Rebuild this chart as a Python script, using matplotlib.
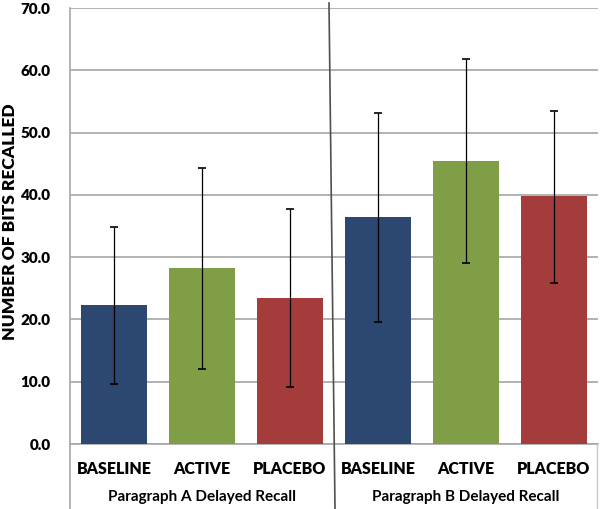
import matplotlib
matplotlib.use("Agg")
import matplotlib.pyplot as plt
from matplotlib.lines import Line2D

categories = ["BASELINE", "ACTIVE", "PLACEBO", "BASELINE", "ACTIVE", "PLACEBO"]
groups = ["Paragraph A Delayed Recall", "Paragraph B Delayed Recall"]
means = [22.3, 28.3, 23.5, 36.5, 45.5, 39.8]
err_low = [9.7, 12.0, 9.1, 19.6, 29.1, 25.9]
err_high = [34.9, 44.3, 37.8, 53.1, 61.8, 53.4]
colors = ["#2C4770", "#7F9E45", "#A33C3B", "#2C4770", "#7F9E45", "#A33C3B"]
yticks = [0, 10, 20, 30, 40, 50, 60, 70]

plt.rcParams['font.family'] = ['Lato', 'DejaVu Sans']

fig = plt.figure(figsize=(6.0, 5.09), dpi=100)
ax = fig.add_axes([70/600, (509-444)/509, 528/600, 436/509])

x = list(range(len(means)))
yerr = [[m - lo for m, lo in zip(means, err_low)], [hi - m for m, hi in zip(means, err_high)]]
ax.bar(x, means, width=0.75, color=colors, zorder=3)
ax.errorbar(x, means, yerr=yerr, fmt='none', ecolor='black', elinewidth=0.9,
            capsize=3, capthick=1.2, zorder=4)

ax.set_xlim(-0.5, 5.5)
ax.set_ylim(0, 70)
ax.set_yticks(yticks)
ax.set_yticklabels([f"{v:.1f}" for v in yticks], fontsize=11, fontweight='heavy')
ax.yaxis.grid(True, color='#A6A6A6', linewidth=1.2, zorder=0)
ax.set_axisbelow(True)
ax.tick_params(axis='y', length=0, pad=14)
ax.set_xticks(x)
ax.set_xticklabels(categories, fontsize=11.5, fontweight='heavy')
ax.tick_params(axis='x', length=0, pad=12)

for s in ['top', 'right']:
    ax.spines[s].set_visible(False)
ax.spines['left'].set_color('#A6A6A6')
ax.spines['bottom'].set_color('#A6A6A6')
ax.spines['left'].set_linewidth(1.2)
ax.spines['bottom'].set_linewidth(1.2)

fig.text(10/600, (509-222)/509, "NUMBER OF BITS RECALLED", rotation=90,
         ha='center', va='center', fontsize=12.5, fontweight='heavy')

# group labels
for gi, g in enumerate(groups):
    fig.text((70 + 528 * (gi * 3 + 1.5) / 6) / 600, (509 - 497) / 509, g,
             ha='center', va='center', fontsize=11, fontweight='bold')

# left axis extension and right edge
fig.add_artist(Line2D([70/600, 70/600], [0, (509-444)/509], color='#A6A6A6', lw=1.2))
fig.add_artist(Line2D([597/600, 597/600], [0, (509-444)/509], color='#C8C8C8', lw=1.0))
# middle divider (slightly slanted)
fig.add_artist(Line2D([329/600, 335/600], [(509-3)/509, 0], color='#505050', lw=1.2, zorder=5))

fig.savefig("out.png", dpi=100)
